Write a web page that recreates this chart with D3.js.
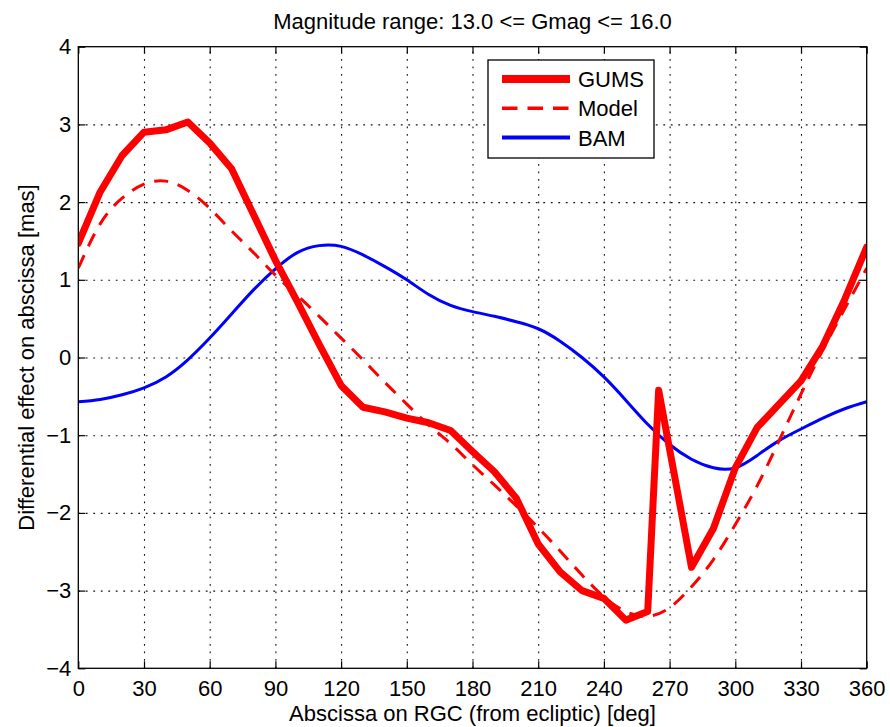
<!DOCTYPE html>
<html>
<head>
<meta charset="utf-8">
<script src="https://cdn.jsdelivr.net/npm/d3@7/dist/d3.min.js"></script>
<style>
  html, body { margin: 0; padding: 0; background: #fff; }
  svg { display: block; font-family: "Liberation Sans", Arial, Helvetica, sans-serif; }
</style>
</head>
<body>
<svg id="chart" width="890" height="727"></svg>
<script>
// Abscissa on RGC (deg) and differential effect (mas) for each curve
const gumsDeg = [0, 10, 20, 30, 40, 50, 60, 70, 80, 90, 100, 110, 120, 130, 140, 150, 160, 170, 180,
                 190, 200, 210, 220, 230, 240, 250, 260, 265, 280, 290, 300, 310, 320, 330, 340, 350, 360];
const gumsVal = [1.47, 2.13, 2.60, 2.90, 2.93, 3.03, 2.76, 2.43, 1.84, 1.25, 0.72, 0.17, -0.36, -0.64, -0.70,
                 -0.78, -0.84, -0.94, -1.21, -1.47, -1.81, -2.40, -2.76, -3.00, -3.10, -3.38, -3.27, -0.42,
                 -2.70, -2.20, -1.42, -0.90, -0.60, -0.30, 0.15, 0.75, 1.42];

const modelDeg = [0, 10, 20, 30, 40, 50, 60, 70, 80, 90, 100, 110, 120, 130, 140, 150, 160, 170, 180,
                  190, 200, 210, 220, 230, 240, 250, 260, 270, 280, 290, 300, 310, 320, 330, 340, 350, 360];
const modelVal = [1.15, 1.72, 2.05, 2.23, 2.27, 2.15, 1.92, 1.63, 1.35, 1.06, 0.80, 0.53, 0.25, -0.03, -0.32,
                  -0.60, -0.87, -1.11, -1.38, -1.64, -1.91, -2.19, -2.49, -2.80, -3.08, -3.27, -3.33, -3.22,
                  -2.95, -2.60, -2.15, -1.65, -1.07, -0.47, 0.10, 0.63, 1.15];

const bamDeg = modelDeg;
const bamVal = [-0.57, -0.54, -0.48, -0.39, -0.25, -0.03, 0.25, 0.56, 0.87, 1.14, 1.35, 1.44, 1.43, 1.32, 1.17,
                1.00, 0.81, 0.67, 0.59, 0.53, 0.46, 0.37, 0.21, 0.00, -0.25, -0.55, -0.86, -1.12, -1.31,
                -1.42, -1.42, -1.26, -1.07, -0.92, -0.78, -0.66, -0.57];

const xTicks = [0, 30, 60, 90, 120, 150, 180, 210, 240, 270, 300, 330, 360];
const yTicks = [-4, -3, -2, -1, 0, 1, 2, 3, 4];

const titleText = "Magnitude range: 13.0 <= Gmag <= 16.0";
const xLabel = "Abscissa on RGC (from ecliptic) [deg]";
const yLabel = "Differential effect on abscissa [mas]";
const legendNames = ["GUMS", "Model", "BAM"];

const W = 890, H = 727;
const margin = { top: 46.7, right: 23.3, bottom: 58.7, left: 78.3 };
const iw = W - margin.left - margin.right;
const ih = H - margin.top - margin.bottom;

const svg = d3.select("#chart");
const g = svg.append("g").attr("transform", `translate(${margin.left},${margin.top})`);

const x = d3.scaleLinear().domain([0, 360]).range([0, iw]);
const y = d3.scaleLinear().domain([-4, 4]).range([ih, 0]);

const fontSize = 22;

// dotted grid
const gridStyle = sel => sel.selectAll("line")
  .attr("stroke", "#111").attr("stroke-width", 1.1).attr("stroke-dasharray", "1.8,5.7");

g.append("g")
  .attr("transform", `translate(0,${ih})`)
  .call(d3.axisBottom(x).tickValues(xTicks.slice(1, -1)).tickSize(-ih).tickFormat(""))
  .call(a => a.select(".domain").remove())
  .call(gridStyle);

g.append("g")
  .call(d3.axisLeft(y).tickValues(yTicks.slice(1, -1)).tickSize(-iw).tickFormat(""))
  .call(a => a.select(".domain").remove())
  .call(gridStyle);

// curves
svg.append("defs").append("clipPath").attr("id", "plotclip")
  .append("rect").attr("x", 0).attr("y", 0).attr("width", iw).attr("height", ih);

const plot = g.append("g").attr("clip-path", "url(#plotclip)");

const lineOf = (degs, vals, curve) => d3.line()
  .x((d, i) => x(degs[i])).y(d => y(d)).curve(curve)(vals);

plot.append("path")
  .attr("d", lineOf(bamDeg, bamVal, d3.curveNatural))
  .attr("fill", "none").attr("stroke", "#0000ff").attr("stroke-width", 3);

plot.append("path")
  .attr("d", lineOf(modelDeg, modelVal, d3.curveNatural))
  .attr("fill", "none").attr("stroke", "#ff0000").attr("stroke-width", 3)
  .attr("stroke-dasharray", "14,10");

plot.append("path")
  .attr("d", lineOf(gumsDeg, gumsVal, d3.curveLinear))
  .attr("fill", "none").attr("stroke", "#ff0000").attr("stroke-width", 7)
  .attr("stroke-linejoin", "round").attr("stroke-linecap", "round");

// axes with inward ticks on all four sides
const tickLen = 7;
const styleAxis = sel => {
  sel.select(".domain").remove();
  sel.selectAll(".tick line").attr("stroke", "#000").attr("stroke-width", 1.2);
  sel.selectAll(".tick text").attr("fill", "#000").style("font-size", fontSize + "px")
    .style("font-family", '"Liberation Sans", Arial, Helvetica, sans-serif');
};

g.append("g")
  .attr("transform", `translate(0,${ih})`)
  .call(d3.axisBottom(x).tickValues(xTicks).tickSizeInner(-tickLen).tickSizeOuter(0).tickPadding(12))
  .call(styleAxis);

g.append("g")
  .call(d3.axisTop(x).tickValues(xTicks).tickSizeInner(-tickLen).tickSizeOuter(0).tickFormat(""))
  .call(styleAxis);

g.append("g")
  .call(d3.axisLeft(y).tickValues(yTicks).tickSizeInner(-tickLen).tickSizeOuter(0).tickPadding(7))
  .call(styleAxis);

g.append("g")
  .attr("transform", `translate(${iw},0)`)
  .call(d3.axisRight(y).tickValues(yTicks).tickSizeInner(-tickLen).tickSizeOuter(0).tickFormat(""))
  .call(styleAxis);

// frame
g.append("rect")
  .attr("x", 0).attr("y", 0).attr("width", iw).attr("height", ih)
  .attr("fill", "none").attr("stroke", "#000").attr("stroke-width", 1.3);

// title and axis labels
svg.append("text")
  .attr("x", margin.left + iw / 2).attr("y", 28.5)
  .attr("text-anchor", "middle").style("font-size", fontSize + "px").attr("fill", "#000")
  .text(titleText);

svg.append("text")
  .attr("x", margin.left + iw / 2).attr("y", 721)
  .attr("text-anchor", "middle").style("font-size", fontSize + "px").attr("fill", "#000")
  .text(xLabel);

svg.append("text")
  .attr("transform", `translate(33.5,${margin.top + ih / 2}) rotate(-90)`)
  .attr("text-anchor", "middle").style("font-size", fontSize + "px").attr("fill", "#000")
  .text(yLabel);

// legend
const lg = svg.append("g").attr("transform", "translate(488,60)");
lg.append("rect").attr("width", 166).attr("height", 98)
  .attr("fill", "#fff").attr("stroke", "#000").attr("stroke-width", 1.3);

const legendStyles = [
  { stroke: "#ff0000", width: 8, dash: null },
  { stroke: "#ff0000", width: 3.5, dash: "15.5,10" },
  { stroke: "#0000ff", width: 4, dash: null }
];
legendNames.forEach((name, i) => {
  const ly = 19 + i * 29.3;
  const st = legendStyles[i];
  lg.append("line")
    .attr("x1", 14).attr("x2", 82).attr("y1", ly).attr("y2", ly)
    .attr("stroke", st.stroke).attr("stroke-width", st.width)
    .attr("stroke-dasharray", st.dash);
  lg.append("text")
    .attr("x", 90).attr("y", ly).attr("dy", "0.36em")
    .style("font-size", fontSize + "px").attr("fill", "#000")
    .text(name);
});
</script>
</body>
</html>
